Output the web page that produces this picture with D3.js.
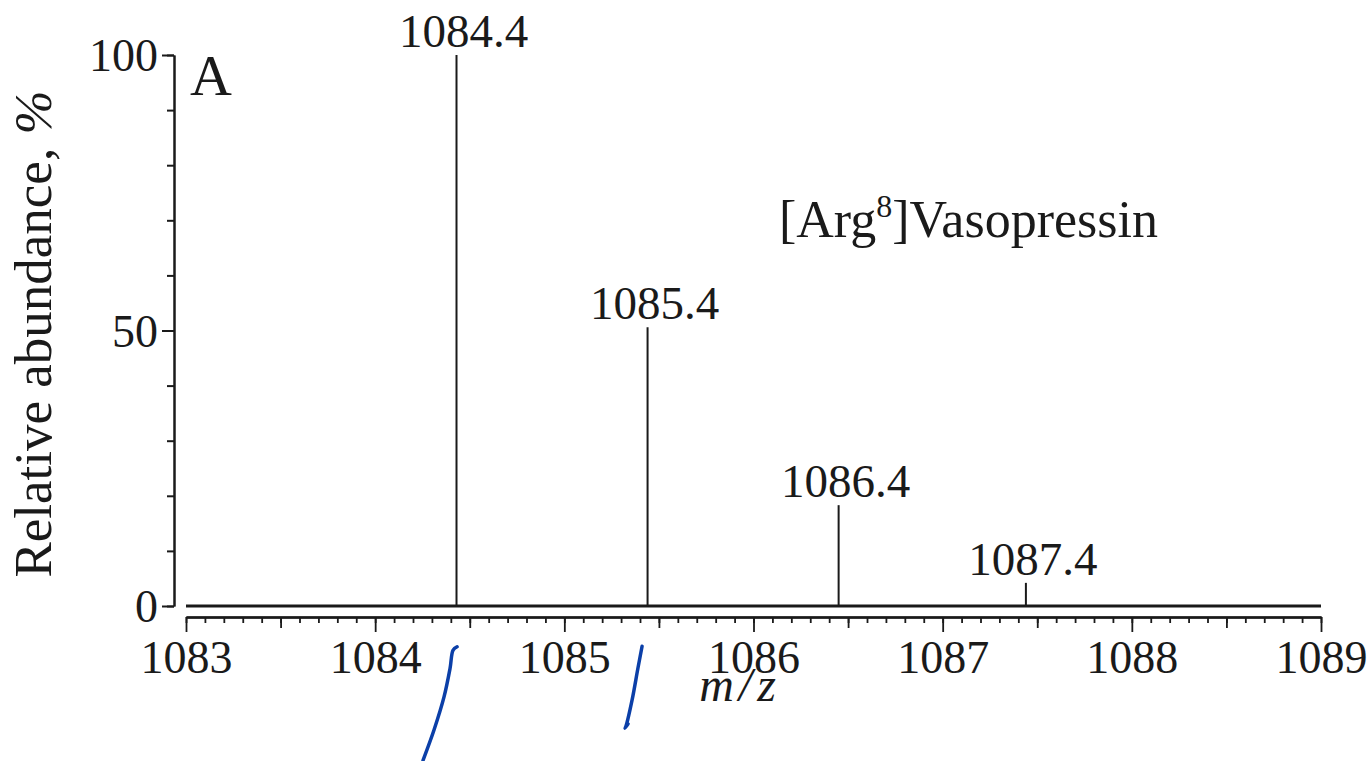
<!DOCTYPE html>
<html><head><meta charset="utf-8">
<script src="https://cdn.jsdelivr.net/npm/d3@7"></script>
<style>
html,body{margin:0;padding:0;background:#fff;}
</style></head>
<body>
<svg id="chart" width="1371" height="761"></svg>
<script>
// ---- data ----
const peakMz = [1084.43, 1085.44, 1086.45, 1087.44];
const peakAbundance = [100, 50.6, 18.3, 4.2];
const peakLabels = ["1084.4", "1085.4", "1086.4", "1087.4"];
const xTickLabels = [1083, 1084, 1085, 1086, 1087, 1088, 1089];
const yTickLabels = [0, 50, 100];
// hand-drawn pen marks (in data units: m/z, % below baseline)
const penMark1 = [[1084.433,-7.4],[1084.412,-8.0],[1084.396,-11.3],[1084.364,-16.5],[1084.311,-22.5],[1084.253,-28.0]];
const penMark2 = [[1085.411,-7.3],[1085.389,-11.3],[1085.358,-17.1],[1085.326,-21.8],[1085.321,-22.2],[1085.337,-21.4]];

const FONT = '"Liberation Serif","Times New Roman",serif';
const svg = d3.select("#chart");
const x = d3.scaleLinear().domain([1083, 1089]).range([186, 1321]);
const y = d3.scaleLinear().domain([0, 100]).range([606, 55]);
const ink = "#1a1a1a";

function styleAxis(g, w) {
  g.selectAll("path.domain").attr("stroke", ink).attr("stroke-width", 2);
  g.selectAll(".tick line").attr("stroke", ink).attr("stroke-width", w);
  g.selectAll(".tick text").attr("font-size", 46).attr("fill", ink).style("font-family", FONT);
}

// y axis (offset to the left)
const yAxisX = 174;
const gyMinor = svg.append("g").attr("transform", `translate(${yAxisX},0)`)
  .call(d3.axisLeft(y).tickValues(d3.range(0, 101, 10)).tickSize(7).tickFormat("").tickSizeOuter(0));
styleAxis(gyMinor, 2);
const gy = svg.append("g").attr("transform", `translate(${yAxisX},0)`)
  .call(d3.axisLeft(y).tickValues(yTickLabels).tickSize(12).tickPadding(4).tickFormat(d3.format("d")).tickSizeOuter(0));
styleAxis(gy, 2);
gy.selectAll(".tick text").attr("dy", "0.34em");

// x axis (offset below)
const xAxisY = 617;
const gxMinor = svg.append("g").attr("transform", `translate(0,${xAxisY})`)
  .call(d3.axisBottom(x).tickValues(d3.range(0, 61).map(i => 1083 + i / 10)).tickSize(6).tickFormat("").tickSizeOuter(0));
styleAxis(gxMinor, 1.8);
const gxMid = svg.append("g").attr("transform", `translate(0,${xAxisY})`)
  .call(d3.axisBottom(x).tickValues(d3.range(0, 6).map(i => 1083.5 + i)).tickSize(11).tickFormat("").tickSizeOuter(0));
styleAxis(gxMid, 1.8);
const gx = svg.append("g").attr("transform", `translate(0,${xAxisY})`)
  .call(d3.axisBottom(x).tickValues(xTickLabels).tickSize(15).tickPadding(8).tickFormat(d3.format("d")).tickSizeOuter(0));
styleAxis(gx, 1.8);

// baseline of spectrum
svg.append("line")
  .attr("x1", x(1083)).attr("x2", x(1089))
  .attr("y1", y(0)).attr("y2", y(0))
  .attr("stroke", ink).attr("stroke-width", 3);

// peaks
svg.selectAll("line.peak").data(peakMz).join("line").attr("class", "peak")
  .attr("x1", d => x(d)).attr("x2", d => x(d))
  .attr("y1", y(0)).attr("y2", (d, i) => y(peakAbundance[i]))
  .attr("stroke", ink).attr("stroke-width", 2);

svg.selectAll("text.plab").data(peakLabels).join("text").attr("class", "plab")
  .attr("x", (d, i) => x(peakMz[i]) + 7)
  .attr("y", (d, i) => y(peakAbundance[i]) - 8)
  .attr("text-anchor", "middle").attr("font-size", 47).attr("fill", ink)
  .style("font-family", FONT)
  .text(d => d);

// panel letter
svg.append("text").attr("x", 190).attr("y", 95).attr("font-size", 58).attr("fill", ink)
  .style("font-family", FONT).text("A");

// compound name
const t = svg.append("text").attr("x", 779).attr("y", 237).attr("font-size", 52).attr("fill", ink)
  .style("font-family", FONT);
t.append("tspan").text("[Arg");
t.append("tspan").attr("font-size", 32).attr("dy", -20).text("8");
t.append("tspan").attr("dy", 20).text("]Vasopressin");

// axis titles
svg.append("text").attr("x", 740).attr("y", 701).attr("text-anchor", "middle")
  .attr("font-size", 48).attr("font-style", "italic").attr("fill", ink)
  .style("font-family", FONT).style("letter-spacing", "5px").text("m/z");
const yt = svg.append("text").attr("transform", "translate(51,334) rotate(-90)")
  .attr("text-anchor", "middle").attr("font-size", 53).attr("fill", ink)
  .style("font-family", FONT);
yt.append("tspan").text("Relative abundance, ");
yt.append("tspan").attr("font-style", "italic").text("%");

// pen marks
const pen = d3.line().x(d => x(d[0])).y(d => y(d[1])).curve(d3.curveCatmullRom);
[penMark1, penMark2].forEach(m => {
  svg.append("path").attr("d", pen(m)).attr("fill", "none")
    .attr("stroke", "#0b3fa8").attr("stroke-width", 3.5)
    .attr("stroke-linecap", "round").attr("stroke-linejoin", "round");
});
</script>
</body></html>
